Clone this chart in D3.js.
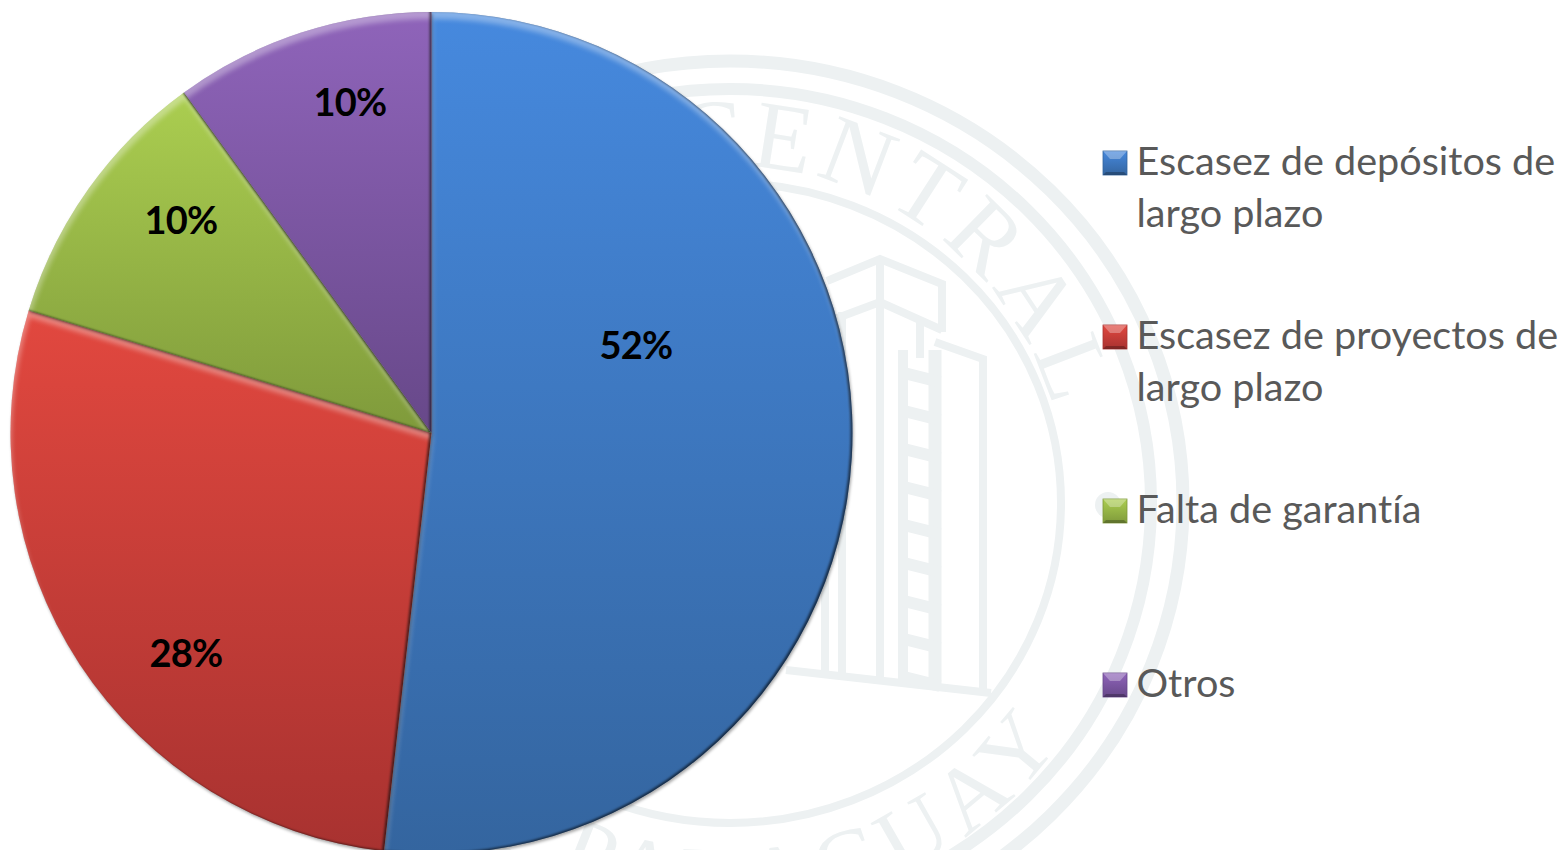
<!DOCTYPE html>
<html><head><meta charset="utf-8">
<script src="https://cdn.jsdelivr.net/npm/d3@7"></script>
<style>html,body{margin:0;padding:0;background:#fff;overflow:hidden}svg{display:block}text{font-variant-ligatures:none}</style>
</head><body><svg id="chart" width="1563" height="850"></svg>
<script>
const categories = ["Escasez de depósitos de largo plazo","Escasez de proyectos de largo plazo","Falta de garantía","Otros"];
const values = [51.8, 27.9, 10.3, 10.0];
const shownLabels = ["52%","28%","10%","10%"];
const topColors = ["#4689de","#e2483f","#abce50","#8f64ba"];
const bottomColors = ["#34659f","#a83230","#7f9a3b","#674889"];
const labelCenters = [[636,345],[186,653],[181,220],[350,102]];
const watermarkTop = "CENTRAL";
const watermarkBottom = "PARAGUAY";

const cx=431.5, cy=433, R=421;
const svg=d3.select("#chart");
const defs=svg.append("defs");
const wm="#edf1f2";

// watermark seal
const W=svg.append("g").attr("class","watermark");
const wx=730, wy=503;
[[453,442,13],[421,414,12],[331,320,8]].forEach(([rx,ry,w])=>W.append("ellipse").attr("cx",wx).attr("cy",wy).attr("rx",rx).attr("ry",ry).attr("fill","none").attr("stroke",wm).attr("stroke-width",w));
W.append("circle").attr("cx",1108).attr("cy",505).attr("r",13).attr("fill",wm);
const rad=a=>a*Math.PI/180;
const pTop=d3.path(); pTop.arc(wx,wy,337,rad(-135),rad(9));
defs.append("path").attr("id","wmTop").attr("d",pTop.toString());
const pBot=d3.path(); pBot.arc(wx,wy,408,rad(170),rad(20),true);
defs.append("path").attr("id","wmBot").attr("d",pBot.toString());
W.append("text").attr("font-family","Liberation Serif").attr("font-size",97).attr("letter-spacing",6).attr("fill",wm)
 .append("textPath").attr("href","#wmTop").attr("startOffset",213).text(watermarkTop);
W.append("text").attr("font-family","Liberation Serif").attr("font-size",92).attr("letter-spacing",10).attr("fill",wm)
 .append("textPath").attr("href","#wmBot").attr("startOffset",389).text(watermarkBottom);
const B=W.append("g").attr("fill","none").attr("stroke",wm).attr("stroke-width",8);
["M827,281L880,259L942,284V332","M832,320L880,302L942,330","M880,259V680","M920,322V358","M935,342L983,359V692","M786,670L991,693",
 "M825,325V674","M842,312V676"].forEach(d=>B.append("path").attr("d",d));
B.append("path").attr("d","M903,350V680").attr("stroke-width",10);
B.append("path").attr("d","M935,350V690").attr("stroke-width",13);
d3.range(372,680,38).forEach(y=>B.append("path").attr("d",`M900,${y}L940,${y+10}`).attr("stroke-width",12));

// gradients: each slice runs light to dark over its own box
categories.forEach((c,i)=>{
  const g=defs.append("linearGradient").attr("id","grad"+i).attr("x1",0).attr("x2",0).attr("y1",0).attr("y2",1);
  g.append("stop").attr("offset",0).attr("stop-color",topColors[i]);
  g.append("stop").attr("offset",1).attr("stop-color",bottomColors[i]);
});

// bevel filter
const f=defs.append("filter").attr("id","bevel").attr("x","-5%").attr("y","-5%").attr("width","110%").attr("height","110%").attr("color-interpolation-filters","sRGB");
f.append("feOffset").attr("in","SourceAlpha").attr("dx",0.5).attr("dy",7).attr("result","o1");
f.append("feGaussianBlur").attr("in","o1").attr("stdDeviation",2.6).attr("result","b1");
f.append("feComposite").attr("in","SourceAlpha").attr("in2","b1").attr("operator","out").attr("result","hiMask");
f.append("feFlood").attr("flood-color","#fff").attr("flood-opacity",0.34);
f.append("feComposite").attr("in2","hiMask").attr("operator","in").attr("result","hi");
f.append("feOffset").attr("in","SourceAlpha").attr("dx",-2).attr("dy",-1.5).attr("result","o2");
f.append("feGaussianBlur").attr("in","o2").attr("stdDeviation",0.8).attr("result","b2");
f.append("feComposite").attr("in","SourceAlpha").attr("in2","b2").attr("operator","out").attr("result","loMask");
f.append("feFlood").attr("flood-color","#000").attr("flood-opacity",0.6);
f.append("feComposite").attr("in2","loMask").attr("operator","in").attr("result","lo");
f.append("feOffset").attr("in","SourceAlpha").attr("dx",1).attr("dy",2).attr("result","o3");
f.append("feGaussianBlur").attr("in","o3").attr("stdDeviation",1.6).attr("result","b3");
f.append("feFlood").attr("flood-color","#000").attr("flood-opacity",0.35);
f.append("feComposite").attr("in2","b3").attr("operator","in").attr("result","sh");
const m=f.append("feMerge");
["sh","SourceGraphic","hi","lo"].forEach(n=>m.append("feMergeNode").attr("in",n));

// pie
const pie=d3.pie().sort(null).value(d=>d);
const arc=d3.arc().innerRadius(0).outerRadius(R);
svg.append("g").attr("transform",`translate(${cx},${cy})`)
 .selectAll("path").data(pie(values)).join("path")
 .attr("d",arc)
 .attr("fill",(d,i)=>`url(#grad${i})`)
 .attr("filter","url(#bevel)");

// value labels
svg.selectAll("text.val").data(shownLabels).join("text").attr("class","val")
 .attr("x",(d,i)=>labelCenters[i][0]).attr("y",(d,i)=>labelCenters[i][1]+14)
 .attr("text-anchor","middle").attr("font-family","Lato").attr("font-weight",700).attr("font-size",38).attr("letter-spacing",-0.8).attr("fill","#000").text(d=>d);

// legend
const legendY=d3.scalePoint().domain(categories).range([151,673]);
const L=svg.selectAll("g.leg").data(categories).join("g").attr("class","leg").attr("transform",d=>`translate(1103,${legendY(d)})`);
L.append("rect").attr("width",24).attr("height",24).attr("fill",(d,i)=>`url(#grad${i})`).attr("stroke",(d,i)=>bottomColors[i]).attr("stroke-width",0.8);
L.append("path").attr("d","M0,0H24L17,8H7Z").attr("fill","#fff").attr("opacity",0.3);
L.append("path").attr("d","M0,24H24L21,21H3Z").attr("fill","#000").attr("opacity",0.25);
L.each(function(d){
  const lines=d.replace(/ (largo plazo)$/,"\n$1").split("\n");
  d3.select(this).selectAll("text").data(lines).join("text")
   .attr("x",33.5).attr("y",(l,i)=>24+i*51.5).attr("font-family","Lato").attr("font-size",39.6).attr("fill","#595959").text(l=>l);
});
</script></body></html>
